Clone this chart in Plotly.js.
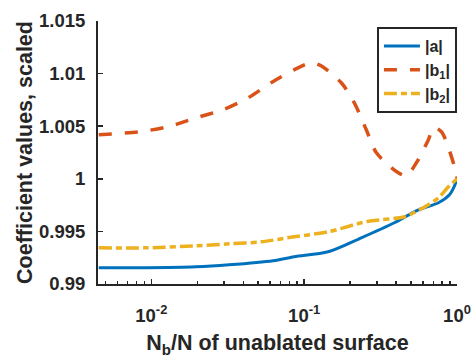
<!DOCTYPE html>
<html>
<head>
<meta charset="utf-8">
<script src="https://cdn.plot.ly/plotly-3.0.1.min.js"></script>
<style>html,body{margin:0;padding:0;background:#fff}#chart{width:474px;height:360px}</style>
</head>
<body>
<div id="chart"></div>
<script>
// |a| (blue solid)
var xA = [0.00453, 0.0092, 0.0196, 0.0322, 0.0626, 0.086, 0.1435, 0.2365, 0.389, 0.559, 0.756, 0.893, 0.963, 1.0];
var yA = [0.99154, 0.99154, 0.99163, 0.99182, 0.99221, 0.99259, 0.99306, 0.99439, 0.99582, 0.99705, 0.99772, 0.99848, 0.99933, 1.0];
// |b1| (orange dashed)
var xB1 = [0.00453, 0.00828, 0.01283, 0.01959, 0.0294, 0.043, 0.0608, 0.086, 0.111, 0.129, 0.175, 0.213, 0.255, 0.297, 0.413, 0.467, 0.542, 0.65, 0.701, 0.791, 0.963, 1.0];
var yB1 = [1.00418, 1.00447, 1.00494, 1.0058, 1.00656, 1.0077, 1.00913, 1.01036, 1.01103, 1.01074, 1.00913, 1.00722, 1.00466, 1.00247, 1.00057, 1.00029, 1.00152, 1.00371, 1.00485, 1.00447, 1.00114, 1.0];
// |b2| (yellow dash-dot)
var xB2 = [0.00453, 0.0092, 0.0196, 0.0322, 0.0523, 0.086, 0.1435, 0.2365, 0.275, 0.453, 0.585, 0.756, 0.879, 1.0];
var yB2 = [0.99344, 0.99344, 0.99363, 0.99382, 0.99401, 0.99449, 0.99496, 0.99582, 0.99601, 0.99639, 0.99715, 0.99819, 0.99924, 1.0];

var seriesNames = ['|a|', '|b<sub>1</sub>|', '|b<sub>2</sub>|'];
var xTickVals = [0.01, 0.1, 1];
var xTickText = ['10<sup>-2</sup>', '10<sup>-1</sup>', '10<sup>0</sup>'];
var xMinorVals = [0.005, 0.006, 0.007, 0.008, 0.009, 0.02, 0.03, 0.04, 0.05, 0.06, 0.07, 0.08, 0.09, 0.2, 0.3, 0.4, 0.5, 0.6, 0.7, 0.8, 0.9];
var yTickVals = [0.99, 0.995, 1, 1.005, 1.01, 1.015];
var yTickText = ['0.99', '0.995', '1', '1.005', '1.01', '1.015'];

var FONT = 'Liberation Sans, Arial, sans-serif';
var AX = '#262626';

var traces = [
  {x: xA, y: yA, name: seriesNames[0], mode: 'lines', line: {color: '#0072BD', width: 3, shape: 'spline', smoothing: 0.8}},
  {x: xB1, y: yB1, name: seriesNames[1], mode: 'lines', line: {color: '#D95319', width: 3.5, dash: '13px,13px', shape: 'spline', smoothing: 0.8}},
  {x: xB2, y: yB2, name: seriesNames[2], mode: 'lines', line: {color: '#EDB120', width: 3.5, dash: '13px,4px,6px,4px', shape: 'spline', smoothing: 0.8}}
];

var layout = {
  width: 474, height: 360,
  margin: {l: 98, r: 17, t: 21, b: 76},
  paper_bgcolor: '#fff', plot_bgcolor: '#fff',
  font: {family: FONT, color: AX, size: 18, weight: 700},
  showlegend: true,
  legend: {
    x: 0.777, y: 0.977, xanchor: 'left', yanchor: 'top',
    bordercolor: AX, borderwidth: 2, bgcolor: '#fff',
    font: {family: FONT, size: 16, color: AX, weight: 700},
    itemwidth: 36, tracegroupgap: 0
  },
  xaxis: {
    type: 'log', range: [Math.log10(0.00448), 0],
    showline: true, linecolor: AX, linewidth: 2,
    showgrid: false, zeroline: false, mirror: false,
    ticks: 'inside', ticklen: 5, tickwidth: 1.5, tickcolor: AX,
    tickmode: 'array', tickvals: xTickVals, ticktext: xTickText,
    tickfont: {family: FONT, size: 18.5, color: AX, weight: 700},
    ticklabelstandoff: 14,
    minor: {tickmode: 'array', tickvals: xMinorVals, ticks: 'inside', ticklen: 3, tickwidth: 1.5, tickcolor: AX, showgrid: false},
    title: {text: 'N<sub>b</sub>/N of unablated surface', font: {family: FONT, size: 21.5, color: AX, weight: 700}, standoff: 10},
    automargin: false
  },
  yaxis: {
    range: [0.99, 1.015],
    showline: true, linecolor: AX, linewidth: 2,
    showgrid: false, zeroline: false, mirror: false,
    ticks: 'inside', ticklen: 5, tickwidth: 1.5, tickcolor: AX,
    tickmode: 'array', tickvals: yTickVals, ticktext: yTickText,
    tickfont: {family: FONT, size: 18.5, color: AX, weight: 700},
    ticklabelstandoff: 7,
    title: {text: 'Coefficient values, scaled', font: {family: FONT, size: 21.5, color: AX, weight: 700}, standoff: 0},
    automargin: false
  }
};

Plotly.newPlot('chart', traces, layout, {staticPlot: true, displayModeBar: false});
</script>
</body>
</html>
